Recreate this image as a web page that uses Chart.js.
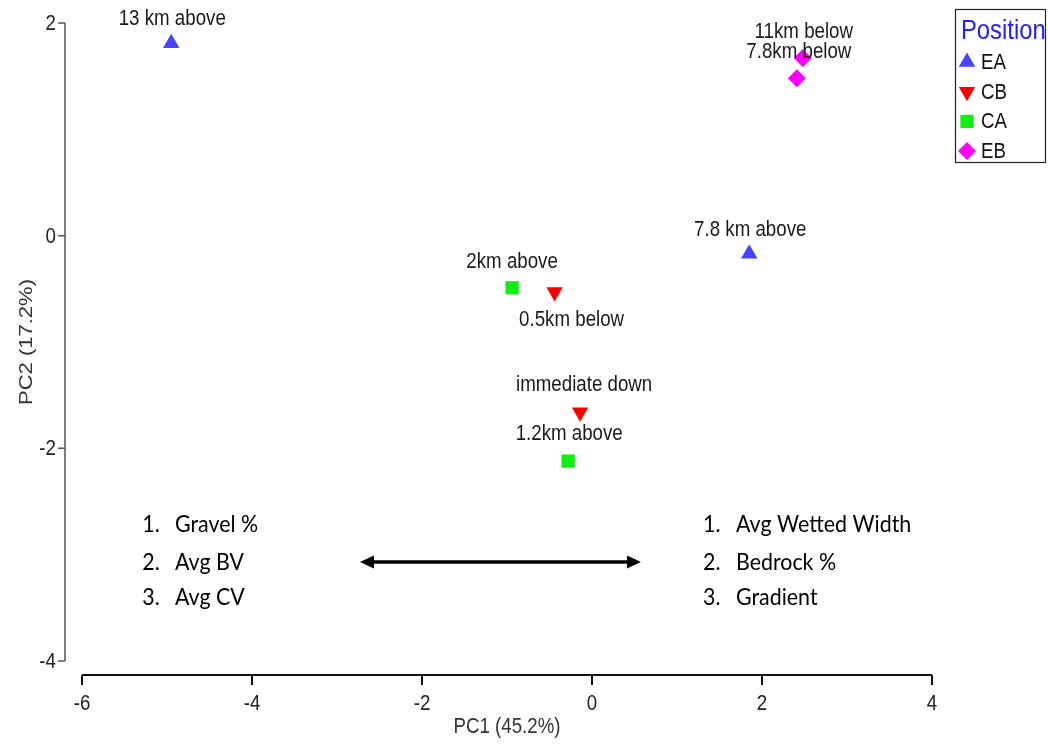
<!DOCTYPE html>
<html>
<head>
<meta charset="utf-8">
<script src="https://cdn.jsdelivr.net/npm/chart.js@4.4.0/dist/chart.umd.min.js"></script>
<style>
  body { margin: 0; background: #fff; }
</style>
</head>
<body>
<canvas id="pcaChart" width="1048" height="744"></canvas>
<script>
// PCA scores of the habitat sites, grouped by position relative to the structure
var groups = ['EA', 'CB', 'CA', 'EB'];

var eaPC1 = [-4.95, 1.85];
var eaPC2 = [1.81, -0.17];
var eaSites = ['13 km above', '7.8 km above'];

var cbPC1 = [-0.44, -0.14];
var cbPC2 = [-0.53, -1.66];
var cbSites = ['0.5km below', 'immediate down'];

var caPC1 = [-0.94, -0.28];
var caPC2 = [-0.49, -2.12];
var caSites = ['2km above', '1.2km above'];

var ebPC1 = [2.48, 2.41];
var ebPC2 = [1.67, 1.48];
var ebSites = ['11km below', '7.8km below'];

var xTicks = [-6, -4, -2, 0, 2, 4];
var yTicks = [2, 0, -2, -4];

// variables loading on each end of PC1
var negLoadings = ['Gravel %', 'Avg BV', 'Avg CV'];
var posLoadings = ['Avg Wetted Width', 'Bedrock %', 'Gradient'];

// label offsets (px) from each point
var eaOffsets = [[1, -24], [1, -24]];
var cbOffsets = [[17, 28], [4, -27]];
var caOffsets = [[0, -26], [1, -27]];
var ebOffsets = [[1, -26], [2, -26]];

var SQUEEZE = 0.85;
var R_FONT = '"Liberation Sans", Arial, sans-serif';
var NOTE_FONT = 'Lato, "Open Sans", sans-serif';

function makeSet(name, xs, ys, sites, offsets, color, style, rotation, radius) {
  return {
    label: name,
    data: xs.map(function(x, i) { return { x: x, y: ys[i] }; }),
    sites: sites,
    offsets: offsets,
    backgroundColor: color,
    borderColor: color,
    borderWidth: 0,
    pointStyle: style,
    rotation: rotation,
    pointRadius: radius,
    pointHoverRadius: radius
  };
}

var datasets = [
  makeSet(groups[0], eaPC1, eaPC2, eaSites, eaOffsets, '#4545ff', 'triangle', 0, 9.5),
  makeSet(groups[1], cbPC1, cbPC2, cbSites, cbOffsets, '#ff0000', 'triangle', 180, 9.5),
  makeSet(groups[2], caPC1, caPC2, caSites, caOffsets, '#11ee11', 'rect', 0, 9.4),
  makeSet(groups[3], ebPC1, ebPC2, ebSites, ebOffsets, '#ff00ff', 'rectRot', 0, 9)
];

// horizontally condensed text, like the exported R graphics
function squeezedText(ctx, text, x, y, font, align, color, rotate, squeeze) {
  ctx.save();
  ctx.font = font;
  ctx.fillStyle = color;
  ctx.textAlign = align;
  ctx.textBaseline = 'middle';
  ctx.translate(x, y);
  ctx.scale(squeeze || SQUEEZE, 1);
  if (rotate) ctx.rotate(rotate);
  ctx.fillText(text, 0, 0);
  ctx.restore();
}

function arrowHead(ctx, x, y, dir) {
  ctx.beginPath();
  ctx.moveTo(x, y);
  ctx.lineTo(x - dir * 14, y - 6.5);
  ctx.lineTo(x - dir * 14, y + 6.5);
  ctx.closePath();
  ctx.fill();
}

var decor = {
  id: 'pcaDecor',
  afterDraw: function(chart) {
    var ctx = chart.ctx;
    var xs = chart.scales.x, ys = chart.scales.y;
    var area = chart.chartArea;

    // y axis, detached to the left of the plot region
    var yAxisX = area.left - 17;
    ctx.save();
    ctx.strokeStyle = '#555';
    ctx.lineWidth = 1.5;
    ctx.beginPath();
    ctx.moveTo(yAxisX, ys.getPixelForValue(yTicks[0]));
    ctx.lineTo(yAxisX, ys.getPixelForValue(yTicks[yTicks.length - 1]));
    yTicks.forEach(function(t) {
      var py = ys.getPixelForValue(t);
      ctx.moveTo(yAxisX, py);
      ctx.lineTo(yAxisX - 7, py);
    });
    ctx.stroke();
    yTicks.forEach(function(t) {
      squeezedText(ctx, String(t), yAxisX - 9, ys.getPixelForValue(t) + 1, '22px ' + R_FONT, 'right', '#222');
    });
    squeezedText(ctx, 'PC2 (17.2%)', 27, (area.top + area.bottom) / 2, '22px ' + R_FONT, 'center', '#333', -Math.PI / 2);

    // x axis, detached below
    var xAxisY = area.bottom + 14;
    ctx.strokeStyle = '#111';
    ctx.lineWidth = 2;
    ctx.beginPath();
    ctx.moveTo(xs.getPixelForValue(xTicks[0]), xAxisY);
    ctx.lineTo(xs.getPixelForValue(xTicks[xTicks.length - 1]), xAxisY);
    xTicks.forEach(function(t) {
      var px = xs.getPixelForValue(t);
      ctx.moveTo(px, xAxisY);
      ctx.lineTo(px, xAxisY + 10);
    });
    ctx.stroke();
    xTicks.forEach(function(t) {
      squeezedText(ctx, String(t), xs.getPixelForValue(t), xAxisY + 29, '22px ' + R_FONT, 'center', '#222');
    });
    squeezedText(ctx, 'PC1 (45.2%)', (area.left + area.right) / 2, 727, '22px ' + R_FONT, 'center', '#333');

    // site names next to each point
    chart.data.datasets.forEach(function(ds, di) {
      var meta = chart.getDatasetMeta(di);
      meta.data.forEach(function(pt, i) {
        squeezedText(ctx, ds.sites[i], pt.x + ds.offsets[i][0], pt.y + ds.offsets[i][1], '22px ' + R_FONT, 'center', '#1a1a1a');
      });
    });

    // loading lists on both ends of PC1
    var rows = [-2.72, -3.07, -3.40];
    function loadingList(items, numX, textX) {
      items.forEach(function(txt, i) {
        var py = ys.getPixelForValue(rows[i]);
        squeezedText(ctx, (i + 1) + '.', xs.getPixelForValue(numX), py, '23px ' + NOTE_FONT, 'left', '#000', 0, 0.93);
        squeezedText(ctx, txt, xs.getPixelForValue(textX), py, '23px ' + NOTE_FONT, 'left', '#000', 0, 0.93);
      });
    }
    loadingList(negLoadings, -5.29, -4.906);
    loadingList(posLoadings, 1.306, 1.694);

    // PC1 direction arrow
    var ax0 = xs.getPixelForValue(-2.73), ax1 = xs.getPixelForValue(0.576);
    var ay = ys.getPixelForValue(-3.07);
    ctx.strokeStyle = '#000';
    ctx.fillStyle = '#000';
    ctx.lineWidth = 3.5;
    ctx.beginPath();
    ctx.moveTo(ax0 + 8, ay);
    ctx.lineTo(ax1 - 8, ay);
    ctx.stroke();
    arrowHead(ctx, ax0, ay, -1);
    arrowHead(ctx, ax1, ay, 1);

    // legend box
    ctx.strokeStyle = '#222';
    ctx.lineWidth = 1.2;
    ctx.strokeRect(955.5, 9.5, 90, 153);
    squeezedText(ctx, 'Position', 961, 31, '28px ' + R_FONT, 'left', '#1f1fff');
    chart.data.datasets.forEach(function(ds, di) {
      var ly = 62 + di * 29.7;
      ctx.fillStyle = ds.backgroundColor;
      ctx.strokeStyle = ds.borderColor;
      Chart.helpers.drawPoint(ctx, {
        pointStyle: ds.pointStyle,
        rotation: ds.rotation,
        radius: ds.pointRadius,
        borderWidth: 0
      }, 967, ly);
      squeezedText(ctx, ds.label, 981, ly + 1, '22px ' + R_FONT, 'left', '#111');
    });
    ctx.restore();
  }
};

var ctx = document.getElementById('pcaChart').getContext('2d');
new Chart(ctx, {
  type: 'scatter',
  data: { datasets: datasets },
  options: {
    responsive: false,
    animation: false,
    layout: { padding: { top: 23, right: 116, left: 0, bottom: 0 } },
    plugins: {
      legend: { display: false },
      tooltip: { enabled: false }
    },
    scales: {
      x: {
        type: 'linear',
        min: -6,
        max: 4,
        ticks: { display: false },
        grid: { display: false, drawTicks: false },
        border: { display: false },
        afterFit: function(scale) { scale.height = 83; }
      },
      y: {
        type: 'linear',
        min: -4,
        max: 2,
        ticks: { display: false },
        grid: { display: false, drawTicks: false },
        border: { display: false },
        afterFit: function(scale) { scale.width = 82; }
      }
    }
  },
  plugins: [decor]
});
</script>
</body>
</html>
